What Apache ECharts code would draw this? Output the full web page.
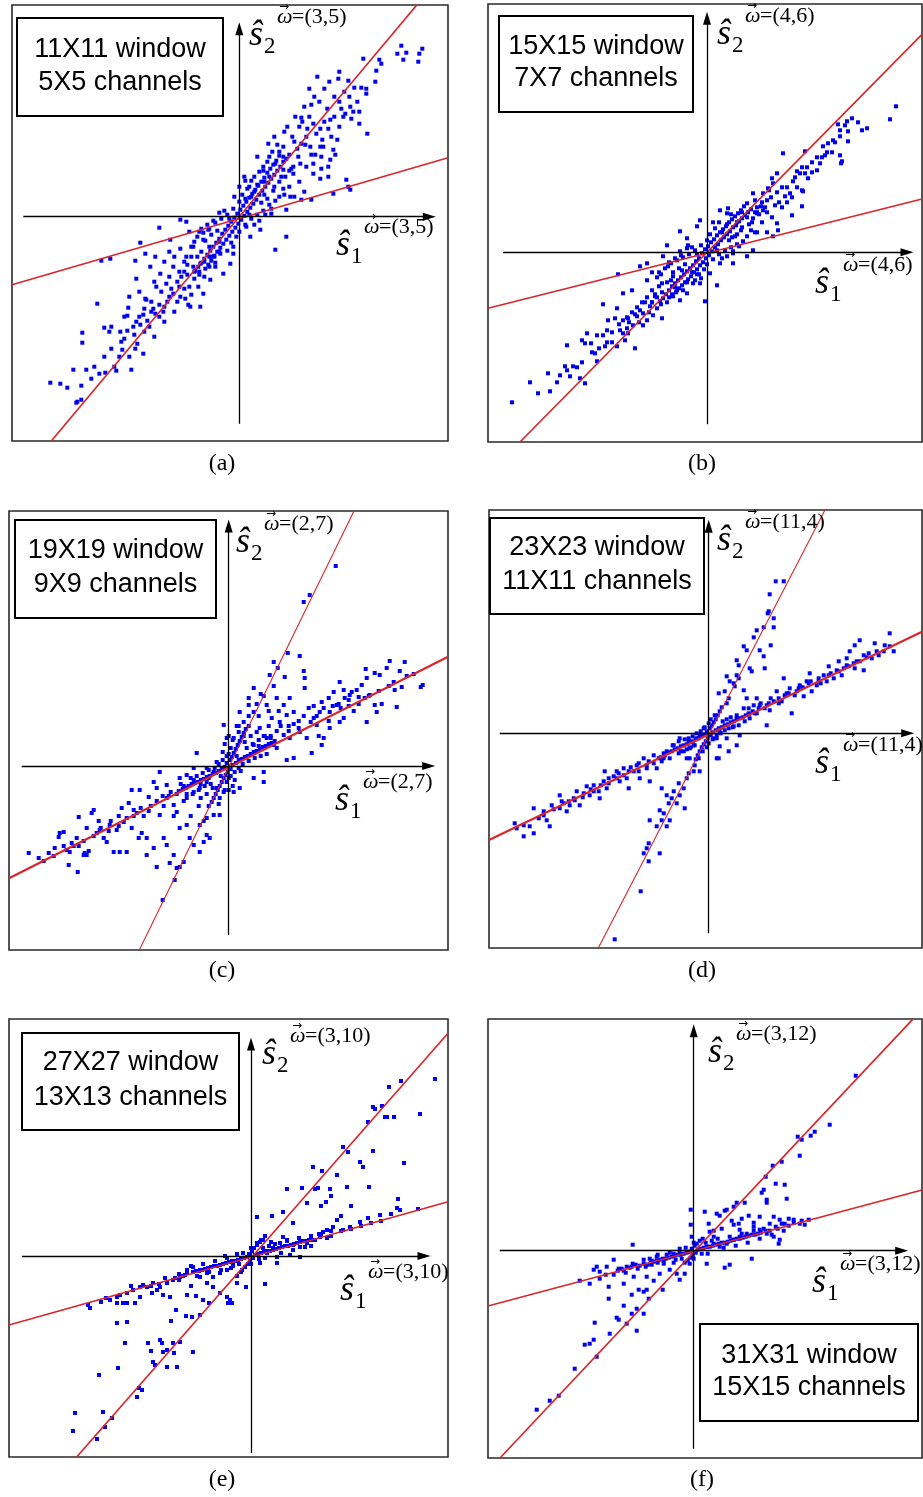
<!DOCTYPE html>
<html><head><meta charset="utf-8">
<script src="https://cdn.jsdelivr.net/npm/echarts@6/dist/echarts.min.js"></script>
<style>html,body{margin:0;padding:0;background:#fff}#c{width:923px;height:1497px}</style>
</head><body><div id="c"></div>
<script>
// ---------- DATA (coordinates relative to origin, y up) ----------
const ptsA = [
[162,171],[167,164],[164,157],[179,155],[183,168],[180,163],[158,163],[124,158],[140,157],[142,153],[137,146],[136,135],[99,138],[109,136],[115,129],[122,129],[127,128],[127,123],[111,110],[106,103],[114,105],[120,105],[104,100],[112,98],[120,93],[128,83],[62,99],[74,93],[81,88],[91,97],[89,88],[92,80],[98,77],[83,77],[77,83],[67,80],[53,80],[62,73],[71,70],[81,70],[94,67],[96,62],[91,57],[82,60],[72,62],[59,60],[44,70],[29,73],[18,60],[24,50],[36,53],[44,47],[54,43],[61,53],[67,50],[74,53],[82,48],[89,50],[74,43],[81,38],[89,40],[107,37],[109,30],[111,27],[94,23],[72,17],[62,17],[51,20],[47,-20],[36,-33],[32,3],[47,7],[21,-13],[11,-20],[7,-10],
[-189,-166],[-179,-167],[-172,-171],[-158,-169],[-162,-185],[-163,-186],[-158,-183],[-166,-153],[-153,-153],[-148,-162],[-140,-157],[-134,-156],[-123,-154],[-108,-153],[-157,-116],[-157,-126],[-142,-87],[-135,-111],[-130,-115],[-128,-110],[-119,-115],[-112,-114],[-115,-122],[-117,-133],[-104,-132],[-102,-127],[-96,-137],[-111,-91],[-112,-99],[-103,-105],[-99,-108],[-94,-82],[-93,-83],[-88,-85],[-86,-92],[-84,-97],[-96,-98],[-76,-95],[-99,-26],[-104,-44],[-129,-42],[-138,-44],[-80,-11],[-94,-37],[-84,-40],[-89,-50],[-79,-57],[-103,-62],[-83,-70],[-73,-67],[-66,-77],[-59,-80],[-54,-82],[-51,-88],[-49,-90],[-39,-90],[-36,-77],[-41,-70],[-29,-63],[-24,-50],[-19,-37],[-59,-3],[-53,-5],[-69,-23],[-59,-32],[-53,-40],[-66,-50],[-58,-60],[-46,-50],[-39,-47],[-48,-30],[-36,-23],[-31,-13],[-6,-37],[-9,-47],[-16,-57],
[30,60],[40,65],[50,62],[55,75],[45,85],[35,80],[60,90],[70,100],[65,110],[75,120],[80,115],[88,108],[95,120],[100,115],[85,128],[90,135],[70,128],[78,140],[100,145],[105,125],[50,30],[60,35],[65,25],[55,20],[40,35],[45,22],[30,40],[25,35],[20,45],[15,40],[10,30],[-5,20],[0,30],[5,40],
[-60,-70],[-70,-80],[-75,-90],[-80,-100],[-65,-95],[-90,-110],[-85,-120],[-95,-115],[-105,-118],[-110,-140],[-120,-140],[-125,-150],[-70,-60],[-75,-45],[-65,-40],[-50,-70],[-45,-62],[-40,-55],[-35,-45],[-30,-50],[-55,-45],[-60,-55],[-45,-25],[-50,-15],[-40,-15],[-30,-30],[-25,-40],[-20,-25],[-70,-35],[-85,-65],[-100,-75],[-110,-80],[-75,-105],[-115,-100],
[15,25],[25,22],[35,30],[42,40],[52,48],[58,68],[66,72],[48,90],[38,72],[28,55],[18,32],[12,20],[6,18],[85,95],[95,100],[102,108],[110,120],[118,115],[68,88],[56,100],[84,70],[76,62],[100,90],[72,112],[63,95],[44,60],[33,65],[-20,-35],[-28,-40],[-38,-35],[-45,-55],[-52,-58],[-62,-65],[-68,-72],[-72,-85],[-80,-88],[-88,-95],[-92,-104],[-100,-100],[-106,-110],[-62,-85],[-55,-72],[-48,-78],[-35,-60],[-30,-40],[-42,-40],[-78,-75],[-95,-92],[-118,-125],[-128,-132],[-135,-140],[-145,-150],
[-2,3],[2,-3],[5,1],[-5,-1],[1,7],[-1,-7],[8,5],[-8,-5],[4,11],[-4,-11],[11,9],[-11,-9],[7,15],[-7,-15],[14,13],[-14,-13],[10,19],[-10,-19],[17,17],[-17,-17],[13,23],[-13,-23],[20,22],[-20,-22],[16,27],[-16,-27],[23,26],[-23,-26],[19,31],[-19,-31],[26,30],[-26,-30],[22,35],[-22,-35],[29,34],[-29,-34],[25,39],[-25,-39],[32,38],[-32,-38],[28,44],[-28,-44],[35,42],[-35,-42],[31,48],[-31,-48],[38,46],[-38,-46],[34,52],[-34,-52],[41,50],[-41,-50],[37,56],[44,55],[40,61],[47,58],[-44,-54],[-40,-58],
[12,-2],[-12,2],[18,2],[-18,-2],[24,6],[-24,-6],[30,12],[-30,-12],[36,16],[-36,-16],[6,-8],[-6,8],[15,-8],[-15,6],[20,-4],[-20,4],[-26,-4],[26,2],[-32,-8],[32,8],[-38,-12],[40,20],[-42,-20],[44,28],[-46,-30],[3,22],[-3,-20],[0,15],[0,-15],[8,28],[-8,-26],[12,36],[-12,-34],[28,18],[-28,-18],[34,26],[-34,-24],[-22,-14],[22,14],[-10,-2],[10,2],[46,40],[-48,-40],[50,46],[-52,-48],[54,50],[-55,-55],[24,46],[-24,-46],[6,36],[-6,-30]
];
const ptsB = [
[189,146],[183,133],[160,124],[155,122],[151,130],[145,134],[140,131],[138,127],[131,128],[133,122],[141,121],[133,116],[141,111],[126,112],[121,109],[116,106],[133,97],[134,89],[135,91],[118,97],[113,89],[110,82],[98,101],[76,99],[90,81],[93,79],[98,79],[101,74],[86,71],[95,62],[96,61],[83,59],[78,56],[95,46],[85,37],[70,79],[65,74],[66,69],[61,64],[56,59],[46,59],[48,52],[60,52],[68,47],[56,42],[70,29],[71,22],[66,16],[50,39],[40,49],[21,44],[20,39],[13,42],[-7,32],[-10,26],[-27,21],[-20,14],[46,2],[40,-4],[26,-11],[26,-1],[10,-33],[3,-21],[-2,-49],[-7,-31],[13,-11],
[-195,-150],[-177,-130],[-169,-141],[-157,-139],[-159,-121],[-147,-123],[-142,-114],[-137,-124],[-134,-114],[-127,-126],[-122,-131],[-140,-93],[-125,-88],[-120,-81],[-116,-91],[-122,-91],[-112,-101],[-110,-109],[-102,-94],[-104,-83],[-110,-83],[-99,-68],[-104,-52],[-90,-56],[-92,-66],[-87,-78],[-84,-81],[-80,-76],[-79,-81],[-72,-96],[-90,-94],[-84,-68],[-79,-66],[-74,-73],[-70,-64],[-67,-58],[-64,-61],[-60,-68],[-64,-73],[-57,-54],[-54,-63],[-50,-56],[-45,-66],[-47,-49],[-75,-38],[-84,-41],[-67,-14],[-60,-11],[-89,-22],[-60,-28],[-55,-38],[-45,-31],[-39,-14],[-34,-24],[-30,-38],[-27,-48],[-20,-41],[-14,-31],[-40,7],[-44,-4],[-27,1],[-19,7],
[50,45],[55,50],[60,40],[45,30],[40,35],[35,40],[30,30],[55,30],[65,35],[75,45],[80,50],[75,65],[85,55],[90,65],[105,90],[100,85],[115,95],[120,100],[60,20],[50,20],[-50,-45],[-55,-50],[-60,-45],[-40,-30],[-45,-40],[-35,-42],[-65,-50],[-70,-55],[-75,-60],[-80,-65],[-95,-80],[-100,-90],[-50,-25],[-55,-20],
[15,20],[25,15],[35,25],[42,28],[52,38],[58,45],[64,55],[70,60],[80,65],[88,75],[95,85],[105,80],[110,95],[125,100],[128,110],[72,50],[62,62],[48,40],[30,18],[20,28],[-15,-20],[-25,-18],[-32,-35],[-38,-45],[-46,-52],[-52,-44],[-58,-60],[-62,-50],[-68,-70],[-72,-62],[-78,-70],[-82,-88],[-88,-72],[-95,-90],[-100,-78],[-108,-96],[-115,-100],[-125,-110],[-130,-115],[-140,-118],[-150,-130],[-20,-30],[-10,-22],[-36,-28],
[-2,3],[2,-3],[5,1],[-5,-1],[1,6],[-1,-6],[8,5],[-8,-6],[4,10],[-4,-10],[11,8],[-11,-9],[7,13],[-7,-13],[14,12],[-14,-13],[10,17],[-10,-17],[17,15],[-17,-16],[13,20],[-13,-20],[20,18],[-20,-19],[16,23],[-16,-24],[23,21],[-23,-22],[19,26],[-19,-27],[26,25],[-26,-25],[22,30],[-22,-30],[29,27],[-29,-28],[25,33],[-25,-33],[32,31],[-32,-31],[28,36],[-28,-36],[35,34],[-35,-34],[31,39],[-31,-40],[38,37],[-38,-38],[34,42],[-34,-44],[41,40],[-41,-42],[37,46],[44,43],[-44,-46],[-40,-50],
[12,-2],[-12,2],[18,2],[-18,-2],[24,5],[-24,-5],[30,8],[-30,-8],[36,11],[-36,-11],[6,-7],[-6,7],[15,-6],[-15,5],[20,-4],[-20,4],[-26,-3],[26,1],[-32,-6],[32,6],[-38,-10],[40,16],[-42,-16],[44,22],[-46,-22],[3,18],[-3,-17],[0,12],[0,-12],[8,24],[-8,-22],[12,30],[-12,-28],[28,16],[-28,-16],[34,22],[-34,-20],[-22,-12],[22,12],[-10,-2],[10,2],[46,34],[-48,-34],[50,40],[-52,-42],[54,46],[-55,-50],[24,38],[-24,-38],[6,30],[-6,-26],[48,20],[-48,-20]
];
const ptsC = [
[107,200],[81,171],[75,164],[59,113],[71,110],[45,104],[49,98],[41,91],[56,89],[75,95],[76,88],[76,78],[161,105],[176,104],[171,95],[137,97],[146,93],[151,91],[158,98],[165,84],[173,79],[166,76],[194,81],[192,79],[168,59],[138,88],[133,81],[128,76],[121,71],[116,68],[111,84],[115,76],[123,74],[130,69],[136,68],[141,71],[146,61],[153,62],[138,44],[148,54],[105,74],[100,68],[93,64],[101,54],[108,61],[115,48],[111,44],[91,54],[85,48],[80,58],[88,41],[101,38],[95,28],[93,21],[83,13],[65,8],[58,6],[55,31],[61,28],[71,34],[78,28],[65,54],[58,51],[51,44],[43,48],[61,68],[55,61],[48,68],[38,61],[25,78],[20,68],[20,61],[25,54],[11,54],[15,44],[10,34],[5,28],[31,38],[38,28],[45,21],[25,21],[35,-6],[35,-16],[25,-12],[11,-22],[5,-26],[-5,41],[-2,28],
[-200,-87],[-180,-87],[-174,-82],[-169,-67],[-165,-66],[-170,-71],[-160,-99],[-151,-106],[-150,-51],[-144,-87],[-142,-89],[-145,-89],[-140,-85],[-152,-72],[-157,-77],[-159,-86],[-142,-62],[-132,-67],[-129,-64],[-125,-72],[-135,-44],[-137,-47],[-122,-76],[-115,-86],[-109,-86],[-102,-86],[-119,-59],[-112,-64],[-105,-56],[-97,-62],[-107,-42],[-100,-37],[-95,-44],[-92,-47],[-97,-24],[-89,-24],[-80,-31],[-87,-67],[-90,-72],[-82,-72],[-75,-82],[-82,-89],[-72,-101],[-65,-72],[-62,-79],[-69,-6],[-75,-16],[-72,-22],[-62,-19],[-62,-32],[-55,-39],[-52,-46],[-69,-49],[-49,-62],[-42,-59],[-39,-72],[-35,-79],[-55,-89],[-59,-97],[-49,-101],[-45,-96],[-52,-102],[-54,-114],[-66,-134],[-29,-86],[-25,-76],[-22,-69],[-19,-72],[-29,-59],[-22,-52],[-15,-49],[-9,-49],[-42,-32],[-35,-26],[-29,-22],[-22,-16],[-49,-12],[-42,-9],[-35,-2],[-22,-2],[-32,13],[-15,-6],[-12,-22],[-9,-32],[-5,-26],
[20,40],[30,50],[40,40],[50,55],[35,70],[45,80],[60,40],[70,45],[85,60],[90,30],[100,45],[120,60],[125,55],[110,62],[-40,-20],[-50,-25],[-60,-30],[-45,-35],[-55,-50],[-65,-40],[-80,-45],[-85,-50],[-110,-50],[-120,-65],[-130,-55],[-150,-80],[-165,-80],[-185,-95],
[30,20],[35,30],[42,28],[48,35],[52,40],[60,35],[65,42],[70,38],[75,50],[82,44],[88,50],[95,58],[104,60],[112,58],[120,66],[130,62],[140,70],[150,75],[160,80],[178,90],[185,92],[20,50],[28,62],[32,72],[40,55],[15,30],[8,40],[-20,-12],[-28,-18],[-35,-14],[-45,-20],[-52,-28],[-58,-26],[-66,-30],[-72,-35],[-78,-40],[-88,-42],[-95,-50],[-102,-52],[-110,-60],[-118,-55],[-128,-62],[-135,-70],[-145,-75],[-155,-80],[-162,-84],[-175,-90],[-190,-92],[-30,-40],[-38,-50],[-20,-40],[-25,-55],
[-2,3],[2,-3],[4,1],[-4,-1],[1,6],[-1,-6],[7,3],[-7,-3],[3,9],[-3,-9],[10,6],[-10,-5],[5,13],[-5,-12],[13,7],[-13,-7],[7,17],[-7,-16],[16,9],[-16,-8],[9,21],[-9,-20],[19,10],[-19,-10],[11,25],[-11,-24],[22,12],[-22,-11],[13,29],[-13,-28],[25,14],[-25,-13],[15,33],[-15,-32],[28,15],[-28,-14],[17,37],[-17,-36],[31,17],[-31,-16],[34,19],[-34,-17],[37,20],[-37,-18],[40,22],[-40,-20],[43,23],[-43,-22],[46,25],[-46,-23],
[10,-2],[-10,2],[14,2],[-14,-2],[20,5],[-20,-4],[26,8],[-26,-7],[6,-6],[-6,6],[12,-5],[-12,4],[0,12],[0,-12],[2,18],[-2,-16],[4,26],[-4,-24],[18,18],[-18,-18],[24,22],[-24,-20],[30,26],[-30,-24],[36,30],[-36,-28],[8,10],[-8,-10],[16,24],[-16,-22],[22,30],[-22,-28],[28,34],[-28,-32],[-2,10],[2,-10],[-6,14],[6,-14],[32,10],[-32,-10],[38,12],[-38,-12],[42,30],[-42,-28],[48,18],[-48,-18],[10,40],[-10,-38],[0,30],[0,-24],[-4,22],[4,-20]
];
const ptsD = [
[67,152],[75,152],[61,139],[59,120],[60,122],[65,115],[48,103],[55,106],[65,106],[45,96],[62,88],[35,87],[38,83],[51,83],[55,77],[28,73],[30,68],[41,65],[43,62],[56,65],[18,57],[28,58],[21,52],[26,47],[10,40],[16,42],[18,30],[35,43],[38,35],
[181,100],[181,87],[185,82],[175,82],[166,90],[170,78],[163,75],[155,78],[151,93],[146,88],[141,82],[138,75],[151,72],[155,63],[146,65],[140,67],[130,72],[128,63],[133,58],[125,55],[120,67],[115,58],[118,52],[110,55],[108,48],[101,60],[98,52],[91,48],[103,42],[95,37],[88,42],[81,45],[76,38],[73,32],[83,20],[75,55],[68,42],[65,32],[58,28],[56,25],[51,28],[61,23],[58,8],[48,35],[45,28],[46,20],[41,15],[35,25],[28,15],[25,7],[31,-2],[28,-12],[20,-18],[18,-5],[11,2],[8,-5],[10,-25],[11,-13],
[-194,-90],[-192,-95],[-185,-103],[-179,-93],[-175,-100],[-175,-75],[-170,-85],[-165,-78],[-162,-87],[-159,-93],[-157,-72],[-149,-62],[-147,-68],[-149,-75],[-142,-78],[-139,-72],[-134,-67],[-129,-72],[-132,-58],[-122,-53],[-119,-62],[-115,-52],[-110,-58],[-109,-65],[-105,-48],[-104,-38],[-102,-55],[-95,-43],[-92,-38],[-89,-48],[-85,-35],[-82,-45],[-80,-55],[-75,-38],[-72,-32],[-69,-45],[-65,-25],[-62,-35],[-55,-22],[-59,-48],[-52,-35],[-47,-28],[-42,-18],[-39,-25],[-35,-12],[-29,-5],[-25,-18],[-22,-25],[-19,-15],[-15,-12],[-12,-5],[-9,-2],
[-94,-206],[-68,-158],[-65,-120],[-60,-110],[-62,-115],[-49,-120],[-60,-128],[-59,-87],[-52,-93],[-47,-87],[-49,-77],[-45,-80],[-42,-93],[-39,-87],[-47,-55],[-42,-62],[-37,-65],[-32,-70],[-29,-62],[-24,-75],[-25,-55],[-22,-45],[-15,-38],[-14,-32],[-10,-25],[-9,-38],[-19,-25],[8,-25],
[-100,-45],[-90,-40],[-80,-38],[-70,-30],[-60,-28],[-50,-25],[-45,-20],[-115,-58],[-125,-60],[-140,-68],[60,30],[70,35],[80,40],[90,45],[100,50],[110,52],[120,58],[135,65],[145,70],[160,80],[50,25],[40,20],[-30,-20],[-20,-8],
[40,25],[52,30],[62,35],[70,30],[78,40],[86,38],[94,46],[102,52],[112,50],[122,60],[130,62],[138,68],[148,72],[158,76],[168,82],[176,88],[-45,-25],[-55,-30],[-62,-32],[-70,-38],[-78,-34],[-85,-42],[-92,-45],[-100,-50],[-108,-52],[-118,-56],[-126,-64],[-135,-65],[-145,-70],[-155,-76],[-165,-82],[-185,-92],[20,35],[25,50],[30,55],[-20,-40],[-30,-50],[-35,-58],[-40,-70],
[-2,2],[2,-2],[4,1],[-4,-1],[1,5],[-1,-5],[7,3],[-7,-3],[3,8],[-3,-8],[10,5],[-10,-5],[5,11],[-5,-11],[13,6],[-13,-6],[7,14],[-7,-14],[16,8],[-16,-8],[9,18],[-9,-18],[19,9],[-19,-9],[22,11],[-22,-11],[25,12],[-25,-12],[28,14],[-28,-13],[31,15],[-31,-15],[34,16],[-34,-16],[37,18],[-37,-18],[40,19],[-40,-19],[11,22],[-11,-22],[13,26],[-13,-26],
[8,-2],[-8,2],[12,0],[-12,0],[16,3],[-16,-3],[20,5],[-20,-5],[5,-5],[-5,5],[0,10],[0,-10],[2,14],[-2,-14],[14,12],[-14,-12],[18,14],[-18,-14],[24,6],[-24,-6],[28,18],[-28,-18],[30,8],[-30,-8],[-4,6],[4,-6],[6,18],[-6,-18],[22,16],[-22,-16],[44,22],[-44,-22],[48,20],[-48,-24],[36,12],[-36,-12]
];
const ptsE = [
[184,177],[169,142],[153,93],[150,175],[138,169],[122,149],[124,147],[131,150],[143,139],[136,139],[134,139],[117,134],[122,105],[97,104],[92,109],[109,94],[112,89],[118,69],[96,69],[86,81],[79,67],[62,89],[71,85],[67,68],[64,67],[51,68],[36,67],[56,53],[75,54],[32,44],[42,33],[6,39],[21,40],[147,57],[149,46],[146,48],[167,47],[129,41],[117,38],[109,34],[99,29],[92,26],[86,36],[82,29],[76,26],[69,19],[62,16],[56,13],[49,9],[42,11],[36,16],[32,19],[29,13],[22,8],[16,3],[12,16],[6,13],[9,-7],[14,-28],[26,-7],[49,-1],[39,1],
[-5,-31],[-14,-27],[-21,-44],[-19,-47],[-24,-41],[-31,-37],[-38,-31],[-44,-27],[-51,-21],[-18,-7],[-24,-14],[-31,-17],[-38,-21],[-44,-17],[-51,-14],[-58,-11],[-64,-17],[-71,-21],[-78,-24],[-84,-27],[-91,-31],[-98,-27],[-104,-31],[-111,-31],[-118,-34],[-124,-37],[-131,-39],[-134,-41],[-141,-44],[-134,-47],[-128,-47],[-116,-47],[-163,-49],[-161,-52],[-134,-67],[-124,-66],[-126,-87],[-103,-87],[-91,-84],[-89,-87],[-78,-87],[-71,-86],[-88,-96],[-84,-94],[-77,-97],[-58,-96],[-98,-106],[-96,-109],[-84,-111],[-74,-111],[-133,-112],[-152,-119],[-112,-132],[-109,-134],[-114,-141],[-176,-157],[-178,-175],[-148,-156],[-154,-183],[-146,-171],[-139,-162],[-75,-54],[-64,-39],[-59,-61],[-51,-59],[-48,-44],[-42,-47],[-23,-47],[-94,-34],[-88,-39],[-81,-41],[-111,-41],[-99,-37],[-124,-47],
[60,10],[70,22],[80,20],[90,25],[100,27],[110,30],[120,33],[130,35],[140,42],[90,40],[100,50],[70,50],[80,60],[-66,-19],[-72,-24],[-86,-22],[-92,-28],[-100,-30],[-108,-29],[-120,-30],[-145,-42],[-150,-46],[-60,-30],[-55,-40],[-65,-60],[-80,-65],[-100,-95],
[-2,2],[2,-2],[4,1],[-4,-1],[1,5],[-1,-5],[7,2],[-7,-2],[3,8],[-3,-8],[10,3],[-10,-3],[6,11],[-6,-11],[13,4],[-13,-4],[9,14],[-9,-14],[16,5],[-16,-5],[19,5],[-19,-5],[22,6],[-22,-6],[25,7],[-25,-7],[28,8],[-28,-8],[31,9],[-31,-9],[34,10],[-34,-10],[37,10],[-37,-10],[40,11],[-40,-11],[43,12],[-43,-12],[46,13],[-46,-13],[49,14],[-49,-14],[52,15],[-52,-15],[55,15],[-55,-15],[58,16],[-58,-16],
[8,-3],[-8,3],[12,8],[-12,-8],[18,10],[-18,-10],[24,12],[-24,-2],[30,3],[-30,-14],[36,15],[-36,-5],[42,6],[-42,-16],[48,18],[-48,-8],[54,9],[-54,-20],[60,20],[-60,-10],[64,16],[-64,-14],[68,22],[-68,-20],[0,8],[0,-8],[14,-2],[-14,2],[20,14],[-20,-12],[26,-1],[-26,0],[10,16],[-10,-16],[14,20],[-14,-20],[72,24],[76,18],[80,25],[-72,-18],[-76,-22]
];
const ptsF = [
[162,175],[136,126],[121,119],[117,115],[108,111],[104,114],[106,95],[88,89],[79,85],[72,74],[82,67],[91,66],[93,52],[73,51],[70,61],[68,58],[73,48],[43,48],[51,48],[40,44],[33,41],[31,40],[26,35],[38,30],[40,26],[45,27],[48,32],[46,21],[15,27],[16,19],[11,39],[23,37],[-3,41],[-3,26],[66,34],[76,27],[80,34],[86,31],[91,27],[100,31],[106,27],[111,26],[115,31],[60,24],[66,21],[73,17],[80,14],[86,11],[85,7],[53,17],[46,14],[40,11],[33,7],[26,4],[20,7],[13,4],[13,-13],[31,-17],[36,-14],[58,-8],
[-61,6],[-80,-9],[-97,-16],[-100,-19],[-94,-21],[-87,-16],[-75,-18],[-67,-16],[-61,-13],[-50,-9],[-44,-8],[-37,-6],[-27,-4],[-20,-3],[-14,-1],[-114,-30],[-104,-33],[-94,-28],[-85,-36],[-70,-33],[-60,-26],[-47,-26],[-34,-23],[-24,-19],[-85,-48],[-62,-44],[-55,-39],[-50,-41],[-47,-39],[-31,-39],[-17,-23],[-14,-29],[-9,-23],[-4,-13],[-99,-72],[-109,-94],[-104,-93],[-100,-89],[-97,-106],[-77,-67],[-75,-69],[-62,-63],[-57,-58],[-50,-63],[-57,-80],[-67,-73],[-84,-83],[-119,-118],[-144,-150],[-157,-159],[-135,-145],
[70,22],[76,20],[82,24],[88,27],[95,25],[100,28],[108,30],[95,32],[60,28],[55,35],[28,22],[20,20],[-30,-10],[-36,-12],[-42,-10],[-48,-16],[-56,-18],[-62,-16],[-68,-22],[-72,-18],[-80,-24],[-88,-24],[-40,-30],[-45,-48],[-70,-55],
[-2,2],[2,-2],[4,1],[-4,-1],[1,5],[-1,-5],[7,2],[-7,-2],[3,7],[-3,-7],[10,3],[-10,-3],[6,10],[-6,-10],[13,4],[-13,-4],[9,12],[-9,-12],[16,4],[-16,-4],[19,5],[-19,-5],[22,6],[-22,-6],[25,7],[-25,-7],[28,8],[-28,-8],[31,8],[-31,-8],[34,9],[-34,-9],[37,10],[-37,-10],[40,11],[-40,-11],[43,12],[-43,-12],[46,12],[49,13],[52,14],[55,15],[58,16],[61,16],[64,17],[67,18],
[8,-3],[-8,3],[12,8],[-12,-8],[18,10],[-18,-9],[24,12],[-24,-2],[30,3],[-30,-13],[36,14],[-36,-4],[42,5],[-42,-14],[48,17],[54,8],[60,20],[66,12],[72,20],[78,16],[84,22],[90,20],[0,8],[0,-8],[-2,14],[14,-3],[-14,2],[20,14],[-20,-12],[-46,-14],[-50,-13],[-54,-15],[-58,-14],[-64,-17],[-70,-20],[-76,-20]
];
// fitted red lines (two endpoints each)
const steepA = [[-188,-224.3],[177.5,211.7]], shallowA = [[-227.3,-68],[208.7,59]];
const steepB = [[-187,-189.7],[215,218]],    shallowB = [[-219,-56],[215,53.3]];
const steepC = [[-89.4,-184],[125.3,255]],   shallowC = [[-219.7,-112.3],[219.3,109.3]];
const steepD = [[-110.4,-214.7],[116.3,223.3]], shallowD = [[-219.7,-106.7],[213.3,101.6]];
const steepE = [[-174.3,-201],[197,222.7]],  shallowE = [[-242,-69],[197,54.3]];
const steepF = [[-193.7,-207.3],[219,231.4]], shallowF = [[-205.7,-55.3],[228.3,60.7]];
// text
const windowLabels = ['11X11 window','15X15 window','19X19 window','23X23 window','27X27 window','31X31 window'];
const channelLabels = ['5X5 channels','7X7 channels','9X9 channels','11X11 channels','13X13 channels','15X15 channels'];
const omegaLabels = ['(3,5)','(4,6)','(2,7)','(11,4)','(3,10)','(3,12)'];
const panelTags = ['(a)','(b)','(c)','(d)','(e)','(f)'];

// ---------- LAYOUT ----------
const L = [
 {grid:[12,5,436,436],  xr:[-227.3,208.7], yr:[-224.3,211.7], ax:[-216,190], ay:[-207,188],
  box:[17,18,206,98], boxT:[120,50,83], s2:[249,46], s1:[336,256], tag:[222,464]},
 {grid:[488,4,434,438], xr:[-219,215], yr:[-189.7,248.3], ax:[-204,200], ay:[-172,234],
  box:[499,16,194,96], boxT:[596,47,79], s2:[717,45], s1:[815,294], tag:[702,464]},
 {grid:[9,511,439,439], xr:[-219.7,219.3], yr:[-184,255], ax:[-207,200], ay:[-169,240],
  box:[15,520,201,98], boxT:[115.5,551,585], s2:[236,553], s1:[335,811], tag:[222,971]},
 {grid:[489,510,433,438], xr:[-219.7,213.3], yr:[-214.7,223.3], ax:[-209,199], ay:[-200,207],
  box:[490,518,214,96], boxT:[597,548,582], s2:[717,551], s1:[815,774], tag:[702,971]},
 {grid:[9,1019,439,438], xr:[-242,197], yr:[-201,237], ax:[-229,173], ay:[-197,212],
  box:[22,1033,217,97], boxT:[130.5,1063,1098], s2:[262,1065], s1:[340,1301], tag:[222,1480]},
 {grid:[488,1019,434,439], xr:[-205.7,228.3], yr:[-207.3,231.7], ax:[-194,208], ay:[-198,220],
  box:[700,1324,218,97], boxT:[809,1356,1388], s2:[708,1063], s1:[812,1293], tag:[702,1480]}
];
const PTS = [ptsA,ptsB,ptsC,ptsD,ptsE,ptsF];
const STEEP = [steepA,steepB,steepC,steepD,steepE,steepF];
const SHALLOW = [shallowA,shallowB,shallowC,shallowD,shallowE,shallowF];

const SERIF = '"Liberation Serif","DejaVu Serif",serif';
const SANS = '"Liberation Sans",Arial,sans-serif';
const RED = '#d8262a';

const grids=[], xAxes=[], yAxes=[], series=[], graphics=[];
function txt(x, baseY, text, font, fs, align){
  graphics.push({type:'text', x:x, y:baseY - 0.3*fs, z:100,
    style:{text:text, font:font, fill:'#000', align:align||'left', verticalAlign:'middle',
           textAlign:align||'left', textVerticalAlign:'middle'}});
}
L.forEach((p,i)=>{
  grids.push({left:p.grid[0], top:p.grid[1], width:p.grid[2], height:p.grid[3],
              show:true, borderColor:'#2a2a2a', borderWidth:1.6, backgroundColor:'#fff'});
  xAxes.push({type:'value', gridIndex:i, min:p.xr[0], max:p.xr[1], show:false});
  yAxes.push({type:'value', gridIndex:i, min:p.yr[0], max:p.yr[1], show:false});
  series.push({type:'scatter', xAxisIndex:i, yAxisIndex:i, data:PTS[i], symbol:'rect', symbolSize:4,
    itemStyle:{color:'#0000f2', opacity:1}, silent:true, animation:false, z:2,
    markLine:{silent:true, animation:false, symbol:['none','none'],
      label:{show:false}, lineStyle:{color:'#000', width:1.3, type:'solid'},
      data:[[{coord:[p.ax[0],0]},{coord:[p.ax[1],0]}],[{coord:[0,p.ay[0]]},{coord:[0,p.ay[1]]}]]}});
  // arrowheads at the axis ends
  series.push({type:'scatter', xAxisIndex:i, yAxisIndex:i, symbol:'triangle', symbolSize:[8,13],
    itemStyle:{color:'#000', opacity:1}, silent:true, animation:false, z:5,
    data:[{value:[p.ax[1],0], symbolRotate:-90},{value:[0,p.ay[1]], symbolRotate:0}]});
  const thin = (i===2||i===3);
  series.push({type:'line', xAxisIndex:i, yAxisIndex:i, data:STEEP[i], showSymbol:false, symbol:'none',
    lineStyle:{color:RED, width: thin?1.1:1.7}, silent:true, animation:false, z:4});
  series.push({type:'line', xAxisIndex:i, yAxisIndex:i, data:SHALLOW[i], showSymbol:false, symbol:'none',
    lineStyle:{color:RED, width: thin?2.2:1.7}, silent:true, animation:false, z:4});
  // label box
  graphics.push({type:'rect', z:90, shape:{x:p.box[0], y:p.box[1], width:p.box[2], height:p.box[3]},
    style:{fill:'#fff', stroke:'#000', lineWidth:2}});
  graphics.push({type:'text', x:p.boxT[0], y:p.boxT[1], z:100, style:{text:windowLabels[i], font:'27px '+SANS, fill:'#000',
    align:'center', verticalAlign:'middle', textAlign:'center', textVerticalAlign:'middle'}});
  graphics.push({type:'text', x:p.boxT[0], y:p.boxT[2], z:100, style:{text:channelLabels[i], font:'27px '+SANS, fill:'#000',
    align:'center', verticalAlign:'middle', textAlign:'center', textVerticalAlign:'middle'}});
  // axis labels
  [[p.s2,'2'],[p.s1,'1']].forEach(([pos,d])=>{
    txt(pos[0], pos[1], 'ŝ', 'italic 36px '+SERIF, 36);
    txt(pos[0]+15, pos[1]+8, d, '23px '+SERIF, 23);
    const ox = pos[0]+28, ob = pos[1]-22;
    txt(ox, ob, 'ω', 'italic 22px '+SERIF, 22);
    txt(ox+2, ob-14, '→', '12px "DejaVu Sans",sans-serif', 12);
    txt(ox+15, ob, '='+omegaLabels[i], '22px '+SERIF, 22);
  });
  graphics.push({type:'text', x:p.tag[0], y:p.tag[1], z:100, style:{text:panelTags[i], font:'24px '+SERIF, fill:'#000',
    align:'center', verticalAlign:'middle', textAlign:'center', textVerticalAlign:'middle'}});
});

const chart = echarts.init(document.getElementById('c'), null, {renderer:'canvas'});
chart.setOption({animation:false, backgroundColor:'#fff', grid:grids, xAxis:xAxes, yAxis:yAxes, series:series, graphic:graphics});
</script></body></html>
